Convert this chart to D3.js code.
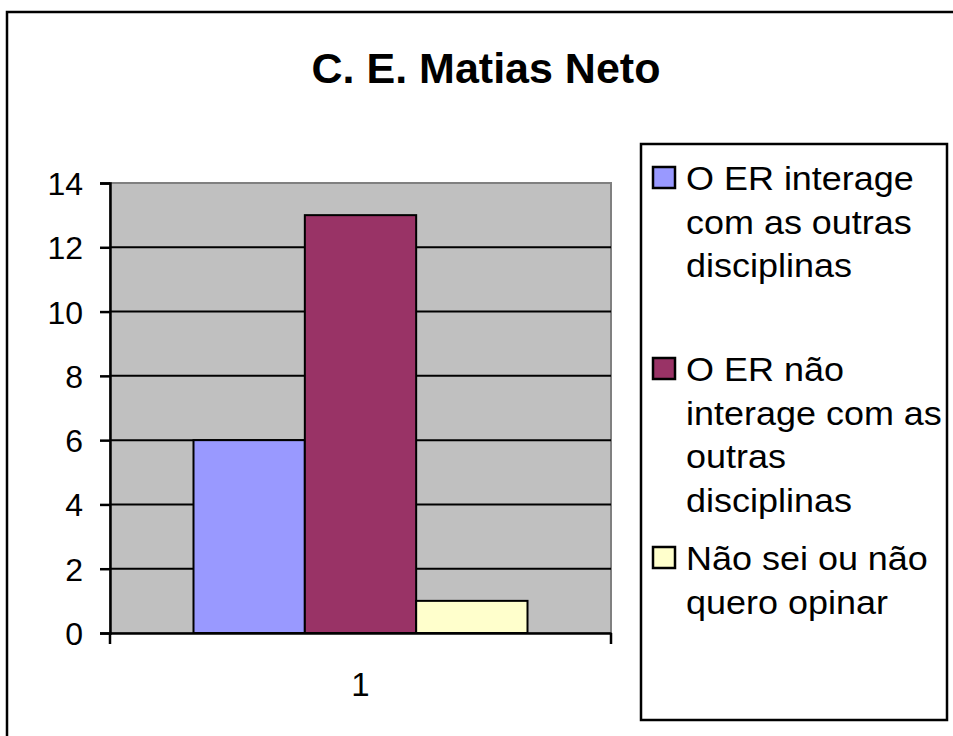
<!DOCTYPE html>
<html>
<head>
<meta charset="utf-8">
<script src="https://cdn.jsdelivr.net/npm/d3@7"></script>
<style>
  html, body { margin: 0; padding: 0; background: #fff; }
  svg { display: block; }
  text { font-family: "Liberation Sans", Arial, sans-serif; fill: #000; }
</style>
</head>
<body>
<svg id="chart" width="953" height="736"></svg>
<script>
const title = "C. E. Matias Neto";
const categories = ["1"];
const seriesNames = [
  "O ER interage com as outras disciplinas",
  "O ER não interage com as outras disciplinas",
  "Não sei ou não quero opinar"
];
const seriesValues = [6, 13, 1];
const seriesColors = ["#9999FF", "#993366", "#FFFFCC"];
const legendLines = [
  ["O ER interage", "com as outras", "disciplinas"],
  ["O ER não", "interage com as", "outras", "disciplinas"],
  ["Não sei ou não", "quero opinar"]
];
const yTicks = [0, 2, 4, 6, 8, 10, 12, 14];

const svg = d3.select("#chart");

// outer chart border
svg.append("rect").attr("x", 7).attr("y", 12).attr("width", 960).attr("height", 740)
  .attr("fill", "#fff").attr("stroke", "#000").attr("stroke-width", 2.5);

// title
svg.append("text").attr("x", 486).attr("y", 83).attr("text-anchor", "middle")
  .attr("font-size", 43).attr("font-weight", "bold").text(title);

const plot = { left: 110, right: 611, top: 183, bottom: 633 };

const x = d3.scaleBand().domain(categories).range([plot.left, plot.right]).paddingInner(0).paddingOuter(0);
const xs = d3.scaleBand().domain(d3.range(seriesNames.length)).range([0, x.bandwidth()])
  .paddingInner(0).paddingOuter(0.75);
const y = d3.scaleLinear().domain([0, 14]).range([plot.bottom, plot.top]);

// plot background
svg.append("rect").attr("x", plot.left).attr("y", plot.top)
  .attr("width", plot.right - plot.left).attr("height", plot.bottom - plot.top)
  .attr("fill", "#C0C0C0").attr("stroke", "#808080").attr("stroke-width", 2);

// gridlines
svg.append("g").selectAll("line").data(yTicks.filter(t => t > 0 && t < 14)).join("line")
  .attr("x1", plot.left).attr("x2", plot.right)
  .attr("y1", d => y(d)).attr("y2", d => y(d))
  .attr("stroke", "#000").attr("stroke-width", 2);

// bars
const data = seriesValues.map((v, i) => ({ cat: categories[0], i, v }));
svg.append("g").selectAll("rect").data(data).join("rect")
  .attr("x", d => x(d.cat) + xs(d.i))
  .attr("width", xs.bandwidth())
  .attr("y", d => y(d.v))
  .attr("height", d => y(0) - y(d.v))
  .attr("fill", d => seriesColors[d.i])
  .attr("stroke", "#000").attr("stroke-width", 2);

// y axis
const yAxis = d3.axisLeft(y).tickValues(yTicks).tickSize(10).tickPadding(17).tickFormat(d3.format("d"));
const gy = svg.append("g").attr("transform", `translate(${plot.left},0)`).call(yAxis);
gy.select(".domain").attr("stroke", "#000").attr("stroke-width", 2.5);
gy.selectAll(".tick line").attr("stroke", "#000").attr("stroke-width", 2.5);
gy.selectAll(".tick text").attr("font-size", 32).attr("fill", "#000")
  .attr("font-family", "'Liberation Sans', Arial, sans-serif").attr("dy", "0.36em");

// x axis
const xAxis = d3.axisBottom(x).tickSize(0).tickPadding(40);
const gx = svg.append("g").attr("transform", `translate(0,${plot.bottom})`).call(xAxis);
gx.select(".domain").attr("stroke", "#000").attr("stroke-width", 2.5);
gx.selectAll(".tick text").attr("font-size", 33).attr("fill", "#000")
  .attr("font-family", "'Liberation Sans', Arial, sans-serif");
// category boundary tick marks
svg.append("g").selectAll("line").data(x.range()).join("line")
  .attr("x1", d => d).attr("x2", d => d)
  .attr("y1", plot.bottom).attr("y2", plot.bottom + 11)
  .attr("stroke", "#000").attr("stroke-width", 2.5);

// legend
const lg = svg.append("g");
lg.append("rect").attr("x", 641).attr("y", 144).attr("width", 306).attr("height", 576)
  .attr("fill", "#fff").attr("stroke", "#000").attr("stroke-width", 2.5);
const entryBase = [190, 381, 570];
const lineH = 43.5;
legendLines.forEach((lines, i) => {
  lg.append("rect").attr("x", 653).attr("y", entryBase[i] - 23).attr("width", 22).attr("height", 21)
    .attr("fill", seriesColors[i]).attr("stroke", "#000").attr("stroke-width", 2.5);
  lines.forEach((ln, j) => {
    lg.append("text")
      .attr("transform", `translate(686,${entryBase[i] + j * lineH}) scale(1.09,1)`)
      .attr("font-size", 33).text(ln);
  });
});
</script>
</body>
</html>
